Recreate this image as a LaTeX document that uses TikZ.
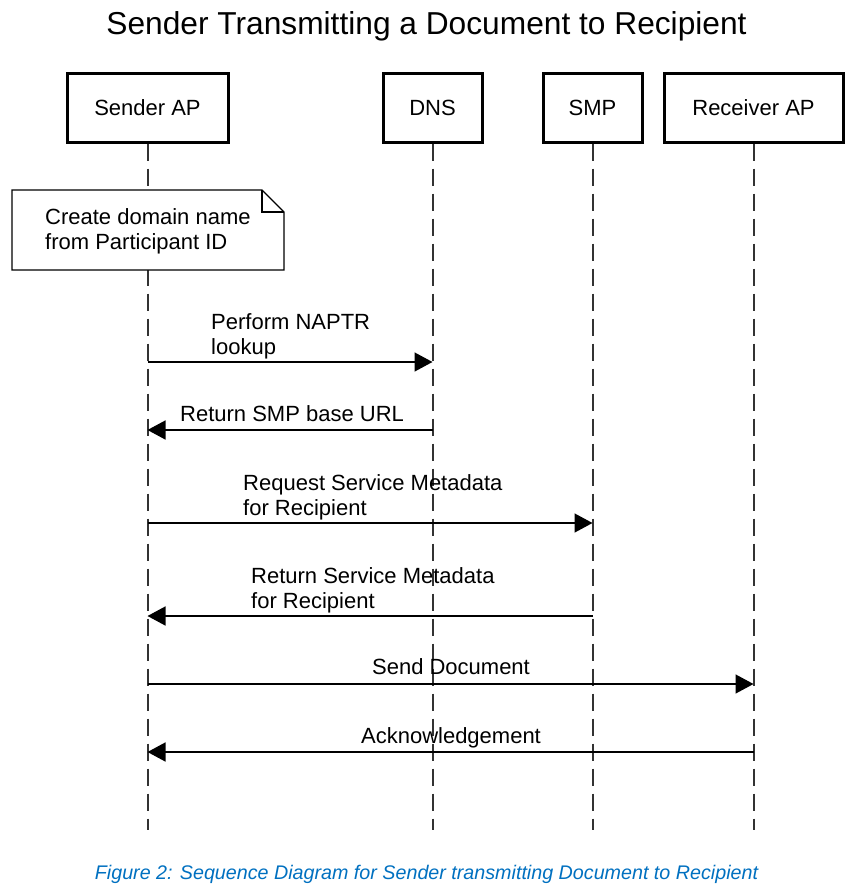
\documentclass[tikz,border=0pt]{standalone}
\usepackage{fontspec}
\setmainfont{Liberation Sans}
\usetikzlibrary{arrows.meta}
\definecolor{capblue}{RGB}{0,112,192}
\begin{document}
\begin{tikzpicture}[x=1pt,y=-1pt,
  actor/.style={draw=black,line width=3pt,fill=white,minimum height=68pt,inner sep=0pt,
    font=\fontsize{22}{25}\selectfont},
  lifeline/.style={line width=2pt,dash pattern=on 17pt off 8pt,draw=black!80},
  msg/.style={line width=1.5pt,-{Triangle[length=18pt,width=19pt]}},
  lbl/.style={font=\fontsize{22}{25}\selectfont,inner sep=0pt,align=left},
  notebox/.style={line width=1.3pt,fill=white}
]
\useasboundingbox (0,0) rectangle (856,888);
% title
\node[font=\fontsize{31.7}{36}\selectfont,anchor=base,inner sep=0pt] (title) at (426.5,35) {Sender Transmitting a Document to Recipient};
% actors
\node[actor,minimum width=161pt] (sa) at (147.5,108) {Sender AP};
\node[actor,minimum width=99pt] (dns) at (432.5,108) {DNS};
\node[actor,minimum width=99pt] (smp) at (592.5,108) {SMP};
\node[actor,minimum width=179pt] (ra) at (753.5,108) {Receiver AP};
% lifeline ends
\coordinate (saE) at (147.5,830);
\coordinate (dnsE) at (432.5,830);
\coordinate (smpE) at (592.5,830);
\coordinate (raE) at (753.5,830);
\draw[lifeline] (sa.south) -- (saE);
\draw[lifeline] (dns.south) -- (dnsE);
\draw[lifeline] (smp.south) -- (smpE);
\draw[lifeline] (ra.south) -- (raE);
% note
\draw[notebox] (12,190) -- (262,190) -- (284,212) -- (284,270) -- (12,270) -- cycle;
\draw[line width=1.3pt] (262,190) -- (262,212) -- (284,212);
\node[lbl,anchor=base west] (note) at (45,249) {Create domain name\\from Participant ID};
% message coordinates
\coordinate (m1a) at (147.5,362); \coordinate (m1b) at (432.5,362);
\coordinate (m2a) at (432.5,430); \coordinate (m2b) at (147.5,430);
\coordinate (m3a) at (147.5,523); \coordinate (m3b) at (592.5,523);
\coordinate (m4a) at (592.5,616); \coordinate (m4b) at (147.5,616);
\coordinate (m5a) at (147.5,684); \coordinate (m5b) at (753.5,684);
\coordinate (m6a) at (753.5,752); \coordinate (m6b) at (147.5,752);
\draw[msg] (m1a) -- (m1b);
\draw[msg] (m2a) -- (m2b);
\draw[msg] (m3a) -- (m3b);
\draw[msg] (m4a) -- (m4b);
\draw[msg] (m5a) -- (m5b);
\draw[msg] (m6a) -- (m6b);
% labels
\node[lbl,anchor=base west] (l1) at (211,354) {Perform NAPTR\\lookup};
\node[lbl,anchor=base west] (l2) at (180,421) {Return SMP base URL};
\node[lbl,anchor=base west] (l3) at (243,515) {Request Service Metadata\\for Recipient};
\node[lbl,anchor=base west] (l4) at (251,608) {Return Service Metadata\\for Recipient};
\node[lbl,anchor=base] (l5) at (451,674) {Send Document};
\node[lbl,anchor=base] (l6) at (451,743) {Acknowledgement};
% caption
\node[font=\fontsize{19.7}{23}\selectfont\itshape,text=capblue,anchor=base,inner sep=0pt] (cap) at (426.5,879) {Figure 2: Sequence Diagram for Sender transmitting Document to Recipient};
\end{tikzpicture}
\end{document}
